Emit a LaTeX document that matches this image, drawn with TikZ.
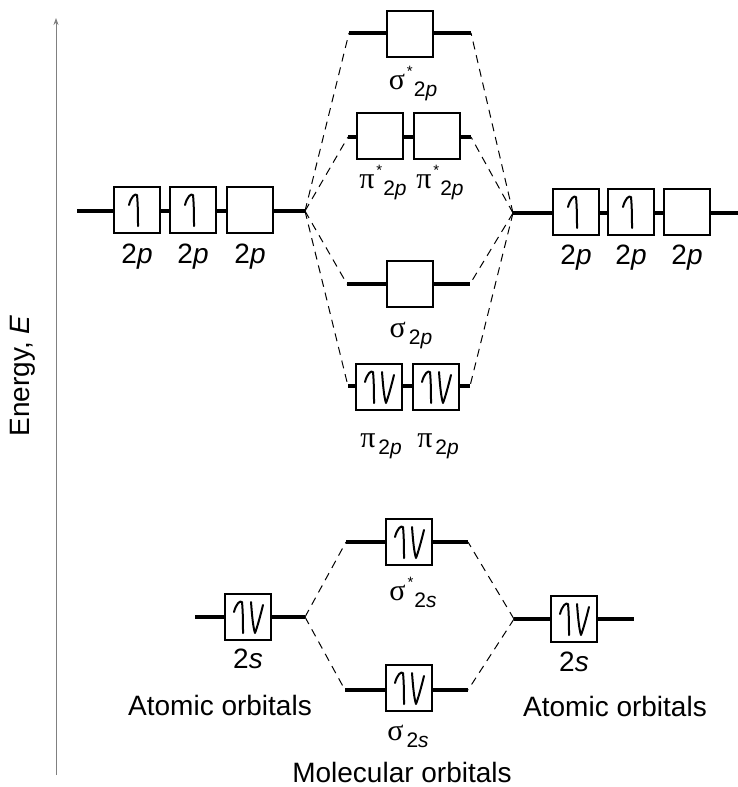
\documentclass[tikz,border=0pt]{standalone}
\usepackage{fontspec}
\setmainfont{Liberation Sans}
\newfontfamily\grk{Liberation Serif}
\usetikzlibrary{arrows.meta}

% orbital label: symbol, optional star, subscript
\newcommand{\molab}[3]{{\grk\fontsize{30}{30}\selectfont #1}\kern2pt\raisebox{13pt}{\fontsize{15}{15}\selectfont #2}\kern1pt\raisebox{-7pt}{\fontsize{21}{21}\selectfont 2\textit{#3}}}

\begin{document}
\begin{tikzpicture}[x=1pt,y=-1pt,
  orb/.style={draw, line width=1.6pt, fill=white, minimum width=46pt,
              minimum height=46pt, inner sep=0pt},
  level/.style={line width=4.5pt},
  corr/.style={line width=1pt, dash pattern=on 8pt off 6pt},
  lab/.style={font=\fontsize{28}{30}\selectfont, anchor=base, inner sep=0pt},
  mol/.style={anchor=base, inner sep=0pt},
  spin/.style={line width=2pt, line cap=round, line join=round},
  upspin/.pic={\draw[spin] (-8,-5) .. controls (-6,-13) and (-2,-17) .. (0,-15)
                 .. controls (1,-5) and (1,8) .. (1,16);},
  dnspin/.pic={\draw[spin] (-3,-15) .. controls (-2,-2) and (-1,10) .. (1,16)
                 .. controls (4,8) and (7,-4) .. (9,-12);},
]
\useasboundingbox (0,0) rectangle (738,787);

% energy axis
\draw[line width=0.8pt, gray, -{Stealth[length=7pt,width=5pt]}] (56,775) -- (56,18);
\node[rotate=90, font=\fontsize{28}{30}\selectfont] (elabel) at (23,376) {Energy, \textit{E}};

% ---- atomic 2p levels ----
\coordinate (L2pa) at (77,211);  \coordinate (L2pb) at (305,211);
\draw[level] (L2pa) -- (L2pb);
\node[orb] (L2p1) at (137,210) {}; \pic at (L2p1) {upspin};
\node[orb] (L2p2) at (193,210) {}; \pic at (L2p2) {upspin};
\node[orb] (L2p3) at (250,210) {};
\foreach \b in {L2p1,L2p2,L2p3} \node[lab] at (\b |- 0,263) {2\textit{p}};

\coordinate (R2pa) at (513,213); \coordinate (R2pb) at (738,213);
\draw[level] (R2pa) -- (R2pb);
\node[orb] (R2p1) at (576,212) {}; \pic at (R2p1) {upspin};
\node[orb] (R2p2) at (631,212) {}; \pic at (R2p2) {upspin};
\node[orb] (R2p3) at (687,212) {};
\foreach \b in {R2p1,R2p2,R2p3} \node[lab] at (\b |- 0,264) {2\textit{p}};

% ---- molecular orbitals from 2p ----
\coordinate (sps1) at (349,33); \coordinate (sps2) at (471,33);
\draw[level] (sps1) -- (sps2);
\node[orb] (sps) at (410,34) {};
\node[mol] at (413,89) {\molab{σ}{*}{p}};

\coordinate (pps1) at (348,137); \coordinate (pps2) at (471,137);
\draw[level] (pps1) -- (pps2);
\node[orb] (ppsa) at (380,136) {};
\node[orb] (ppsb) at (437,136) {};
\node[mol] at (383,188) {\molab{π}{*}{p}};
\node[mol] at (440,188) {\molab{π}{*}{p}};

\coordinate (sp1) at (347,284); \coordinate (sp2) at (470,284);
\draw[level] (sp1) -- (sp2);
\node[orb] (sp) at (410,284) {};
\node[mol] at (411,337) {\molab{σ}{}{p}};

\coordinate (pp1) at (348,386); \coordinate (pp2) at (470,386);
\draw[level] (pp1) -- (pp2);
\node[orb] (ppa) at (379,387) {}; \pic at ([xshift=-6pt]ppa) {upspin}; \pic at ([xshift=6pt]ppa) {dnspin};
\node[orb] (ppb) at (436,387) {}; \pic at ([xshift=-6pt]ppb) {upspin}; \pic at ([xshift=6pt]ppb) {dnspin};
\node[mol] at (381,447) {\molab{π}{}{p}};
\node[mol] at (438,447) {\molab{π}{}{p}};

% correlation lines, 2p
\foreach \m in {sps1,pps1,sp1,pp1} \draw[corr] (L2pb) -- (\m);
\foreach \m in {sps2,pps2,sp2,pp2} \draw[corr] (R2pa) -- (\m);

% ---- atomic 2s levels ----
\coordinate (L2sa) at (195,617); \coordinate (L2sb) at (305,617);
\draw[level] (L2sa) -- (L2sb);
\node[orb] (L2s) at (248,617) {};
\pic at ([xshift=-6pt]L2s) {upspin}; \pic at ([xshift=6pt]L2s) {dnspin};
\node[lab] at (248,668) {2\textit{s}};

\coordinate (R2sa) at (514,619); \coordinate (R2sb) at (634,619);
\draw[level] (R2sa) -- (R2sb);
\node[orb] (R2s) at (574,619) {};
\pic at ([xshift=-6pt]R2s) {upspin}; \pic at ([xshift=6pt]R2s) {dnspin};
\node[lab] at (574,671) {2\textit{s}};

% ---- molecular orbitals from 2s ----
\coordinate (sss1) at (346,542); \coordinate (sss2) at (468,542);
\draw[level] (sss1) -- (sss2);
\node[orb] (sss) at (409,542) {};
\pic at ([xshift=-6pt]sss) {upspin}; \pic at ([xshift=6pt]sss) {dnspin};
\node[mol] at (413,600) {\molab{σ}{*}{s}};

\coordinate (ss1) at (345,690); \coordinate (ss2) at (468,690);
\draw[level] (ss1) -- (ss2);
\node[orb] (ss) at (409,688) {};
\pic at ([xshift=-6pt]ss) {upspin}; \pic at ([xshift=6pt]ss) {dnspin};
\node[mol] at (408,740) {\molab{σ}{}{s}};

\draw[corr] (L2sb) -- (sss1); \draw[corr] (L2sb) -- (ss1);
\draw[corr] (R2sa) -- (sss2); \draw[corr] (R2sa) -- (ss2);

% captions
\node[lab] (aol) at (220,715) {Atomic orbitals};
\node[lab] (aor) at (615,716) {Atomic orbitals};
\node[lab] (mo) at (402,782) {Molecular orbitals};
\end{tikzpicture}
\end{document}
